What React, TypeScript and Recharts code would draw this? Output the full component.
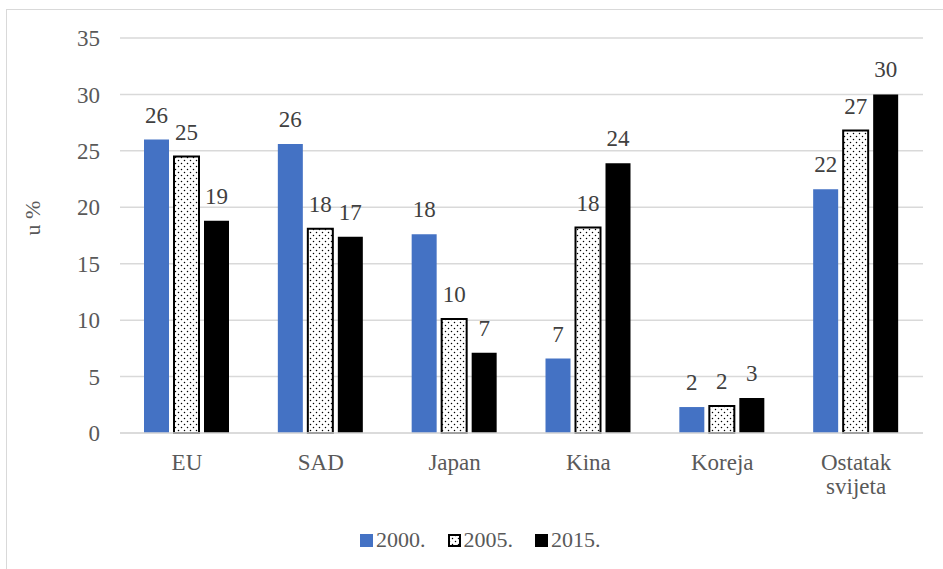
import React from 'react';
import { BarChart, Bar, XAxis, YAxis, CartesianGrid, LabelList } from 'recharts';

// Share by region, in percent
const categories = ['EU', 'SAD', 'Japan', 'Kina', 'Koreja', 'Ostatak svijeta'];
const share2000 = [26.0, 25.6, 17.6, 6.6, 2.3, 21.6];
const share2005 = [24.5, 18.1, 10.1, 18.2, 2.4, 26.8];
const share2015 = [18.8, 17.4, 7.1, 23.9, 3.1, 30.0];
const seriesNames = ['2000.', '2005.', '2015.'];
const yTicks = [0, 5, 10, 15, 20, 25, 30, 35];
const yLabel = 'u %';

const data = categories.map((name, i) => ({
  name,
  y2000: share2000[i],
  y2005: share2005[i],
  y2015: share2015[i],
}));

const FONT = '"Liberation Serif", "Times New Roman", serif';
const TEXT = '#595959';
const BLUE = '#4472C4';

const ValueLabel = (props: any) => {
  const { x, y, width, value } = props;
  return (
    <text
      x={Number(x) + Number(width) / 2}
      y={Number(y) - 17}
      textAnchor="middle"
      fill="#404040"
      fontSize={23}
      fontFamily={FONT}
    >
      {Math.round(Number(value))}
    </text>
  );
};

const CategoryTick = (props: any) => {
  const { x, y, payload } = props;
  const words = String(payload.value).split(' ');
  return (
    <text x={x} y={y} textAnchor="middle" fill={TEXT} fontSize={23} fontFamily={FONT}>
      {words.map((w: string, i: number) => (
        <tspan key={i} x={x} dy={i === 0 ? 35 : 24}>
          {w}
        </tspan>
      ))}
    </text>
  );
};

const Swatch = ({ kind }: { kind: number }) => (
  <svg width={13} height={13} style={{ display: 'block' }}>
    {kind === 0 && <rect x={0} y={0} width={13} height={13} fill={BLUE} />}
    {kind === 1 && (
      <rect x={1} y={1} width={11} height={11} fill="url(#dotFill)" stroke="#000" strokeWidth={2} />
    )}
    {kind === 2 && <rect x={0} y={0} width={13} height={13} fill="#000" />}
  </svg>
);

export default function App() {
  return (
    <div style={{ position: 'absolute', left: 0, top: 0, width: 943, height: 569, background: '#fff' }}>
      <svg width={0} height={0} style={{ position: 'absolute' }}>
        <defs>
          <pattern id="dotFill" width={6} height={6} patternUnits="userSpaceOnUse">
            <rect width={6} height={6} fill="#fff" />
            <circle cx={1.5} cy={1.5} r={0.75} fill="#000" />
            <circle cx={4.5} cy={4.5} r={0.75} fill="#000" />
          </pattern>
        </defs>
      </svg>
      <div
        style={{
          position: 'absolute',
          left: 6,
          top: 9,
          width: 940,
          height: 562,
          borderLeft: '1px solid #d9d9d9',
          borderTop: '1px solid #d9d9d9',
        }}
      />
      <BarChart
        width={943}
        height={569}
        data={data}
        margin={{ top: 38, right: 20, bottom: 0, left: 0 }}
        barCategoryGap={24}
        barGap={5}
        style={{ position: 'absolute', left: 0, top: 0 }}
      >
        <CartesianGrid vertical={false} stroke="#d9d9d9" strokeWidth={1.5} />
        <XAxis
          dataKey="name"
          axisLine={{ stroke: '#d9d9d9', strokeWidth: 1.5 }}
          tickLine={false}
          tickSize={0}
          tick={<CategoryTick />}
          interval={0}
          height={136}
        />
        <YAxis
          width={120}
          domain={[0, 35]}
          ticks={yTicks}
          axisLine={false}
          tickLine={false}
          tickSize={0}
          tickMargin={20}
          tick={{ fill: TEXT, fontSize: 23, fontFamily: FONT }}
          label={{
            value: yLabel,
            angle: -90,
            position: 'insideLeft',
            offset: 32,
            fill: TEXT,
            fontSize: 22,
            fontFamily: FONT,
          }}
        />
        <Bar dataKey="y2000" name={seriesNames[0]} fill={BLUE} isAnimationActive={false}>
          <LabelList dataKey="y2000" content={<ValueLabel />} />
        </Bar>
        <Bar
          dataKey="y2005"
          name={seriesNames[1]}
          fill="url(#dotFill)"
          stroke="#000"
          strokeWidth={2}
          isAnimationActive={false}
        >
          <LabelList dataKey="y2005" content={<ValueLabel />} />
        </Bar>
        <Bar dataKey="y2015" name={seriesNames[2]} fill="#000" isAnimationActive={false}>
          <LabelList dataKey="y2015" content={<ValueLabel />} />
        </Bar>
      </BarChart>
      <div
        style={{
          position: 'absolute',
          left: 360,
          top: 527,
          height: 26,
          display: 'flex',
          alignItems: 'center',
        }}
      >
        {seriesNames.map((n, i) => (
          <div key={n} style={{ display: 'flex', alignItems: 'center', marginRight: 22 }}>
            <Swatch kind={i} />
            <span
              style={{
                fontFamily: FONT,
                fontSize: 22,
                color: TEXT,
                marginLeft: 3,
                lineHeight: '22px',
              }}
            >
              {n}
            </span>
          </div>
        ))}
      </div>
    </div>
  );
}
